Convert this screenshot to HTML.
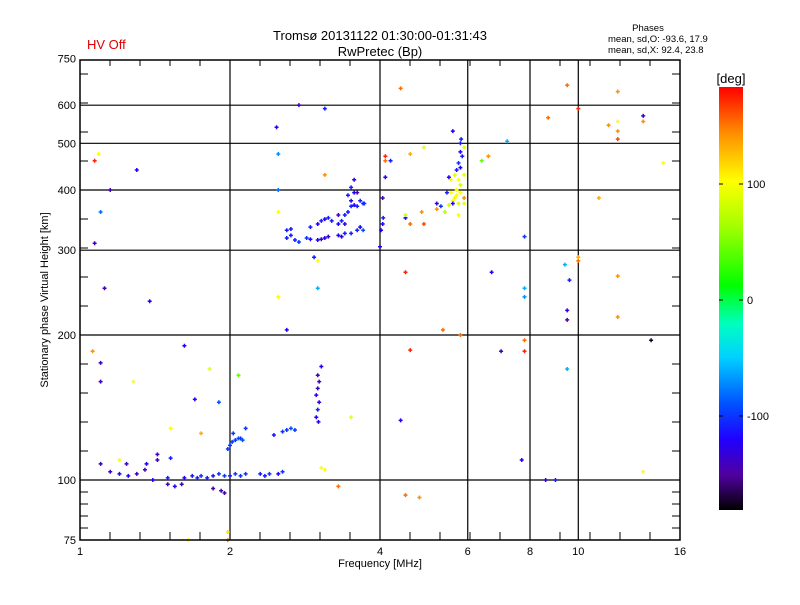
<!DOCTYPE html>
<html><head><meta charset="utf-8"><style>
body{margin:0;background:#fff;}
svg text{font-family:"Liberation Sans",sans-serif;}
</style></head><body>
<svg id="chart" width="800" height="600" viewBox="0 0 800 600" xmlns="http://www.w3.org/2000/svg">
<rect width="800" height="600" fill="#fff"/>
<text x="87" y="49" font-size="13" fill="#e00000">HV Off</text>
<text x="380" y="40" font-size="13" text-anchor="middle">Tromsø 20131122 01:30:00-01:31:43</text>
<text x="380" y="56" font-size="13" text-anchor="middle">RwPretec (Bp)</text>
<text x="648" y="31" font-size="9.5" text-anchor="middle">Phases</text>
<text x="608" y="42" font-size="9.5">mean, sd,O: -93.6, 17.9</text>
<text x="608" y="53" font-size="9.5">mean, sd,X:  92.4, 23.8</text>
<text x="380" y="567" font-size="11" text-anchor="middle">Frequency [MHz]</text>
<text transform="translate(48,300) rotate(-90)" font-size="11" text-anchor="middle">Stationary phase Virtual Height [km]</text>
<g id="grid"></g><g id="ticks"></g><g id="points"></g>
<rect x="80" y="60" width="600" height="480" fill="none" stroke="#000" stroke-width="1.5"/>
<defs><linearGradient id="cb" x1="0" y1="1" x2="0" y2="0">
<stop offset="0" stop-color="#000"/><stop offset="0.083" stop-color="#5000a0"/><stop offset="0.167" stop-color="#2000ff"/><stop offset="0.25" stop-color="#0050ff"/><stop offset="0.36" stop-color="#00d0ff"/><stop offset="0.44" stop-color="#00ffc0"/><stop offset="0.53" stop-color="#00ff00"/><stop offset="0.667" stop-color="#a0ff00"/><stop offset="0.778" stop-color="#ffff00"/><stop offset="0.889" stop-color="#ff9000"/><stop offset="1" stop-color="#ff0000"/></linearGradient></defs>
<rect x="719" y="87" width="24" height="423" fill="url(#cb)"/>
<text x="731" y="83" font-size="13" text-anchor="middle">[deg]</text>
<g id="cbticks"></g>
</svg>
<script>
const freqs=[1.10,1.15,1.2,1.25,1.3,1.35,1.4,1.5,1.55,1.6,1.62,1.68,1.72,1.75,1.8,1.85,1.9,1.95,2.0,2.05,2.1,2.15,2.3,2.35,2.4,2.5,2.55,1.92,1.95,1.85,1.5,1.36,1.43,1.43,1.52,
2.0,2.02,2.05,2.08,2.1,1.98,2.03,2.12,2.45,2.55,2.6,2.65,2.7,2.98,3.0,3.02,2.98,3.0,3.02,3.0,3.05,3.01,
1.82,1.9,2.08,1.62,2.15,1.52,1.75,1.7,3.5,3.05,3.1,3.3,1.65,1.98,1.98,1.06,1.1,1.1,1.2,1.24,1.28,2.6,2.5,3.0,4.4,4.6,4.5,4.8,5.8,7.0,7.7,7.8,7.8,9.0,9.5,8.6,13.5,14.0,12.0,12.0,10.0,9.5,9.5,9.6,9.4,10.0,7.8,7.8,7.8,6.7,4.5,5.35,2.95,3.0,3.1,2.5,2.5,1.07,1.07,1.15,1.12,1.1,1.09,1.3,1.38,2.5,2.48,2.75,3.1,4.4,4.6,4.9,5.6,6.6,6.4,7.2,8.7,9.5,10.0,11.5,12,12,12,12,13.5,13.5,14.8,11,4.5,4.5,4.85,4.9,5.2,4.6,4.1,4.1,
2.6,2.65,2.7,2.75,2.85,2.9,3.0,3.05,3.1,3.15,3.3,3.35,3.4,3.5,3.6,3.65,3.7,2.6,2.65,2.9,3.0,3.05,3.1,3.15,3.2,3.3,3.35,3.4,3.45,3.5,3.55,3.6,3.65,3.7,3.5,3.45,3.5,3.55,3.55,3.6,3.72,3.3,3.4,
4.0,4.02,4.05,4.06,4.05,4.1,4.2,
5.6,5.65,5.7,5.75,5.8,5.7,5.8,5.75,5.65,5.7,5.8,5.75,5.85,5.8,5.8,5.82,5.55,5.55,5.6,5.5,5.9,5.9,5.75,5.5,5.45,5.3,5.2,5.4,5.9,5.9];
const heights=[108,104,103,102,103,105,100,98,97,98,101,102,101,102,101,102,103,102,102,103,102,103,103,102,103,103,104,95,94,96,101,108,110,113,111,
118,120,121,122,122,116,125,121,124,126,127,128,127,135,140,145,150,155,160,165,172,132,
170,145,165,190,128,128,125,147,135,106,105,97,75,75,78,185,175,160,110,108,160,205,240,250,133,186,93,92,200,185,110,185,195,100,170,100,104,195,218,265,285,225,215,260,280,290,240,250,320,270,270,205,290,285,430,360,400,310,460,400,250,360,475,440,235,475,540,600,590,650,475,490,530,470,460,505,565,660,590,545,555,530,510,640,570,555,455,385,350,355,360,340,375,340,470,460,
318,322,315,312,318,316,315,316,318,320,322,320,325,325,330,335,330,330,332,335,340,345,348,350,345,340,345,355,360,370,372,370,380,375,380,390,405,420,395,395,375,355,340,
305,330,340,350,385,425,460,
380,385,390,375,395,400,410,420,430,440,445,455,470,480,500,510,420,395,375,372,385,375,355,425,395,370,365,360,490,430];
const phases=[-140,-140,-120,-120,-140,-140,-120,-140,-120,-140,-120,-110,-110,-100,-110,-110,-100,-100,-110,-100,-100,-100,-110,-110,-100,-120,-100,-140,-140,-150,-110,-120,-140,-140,-110,
-100,-100,-100,-90,-100,-100,-100,-90,-110,-100,-100,-90,-100,-120,-110,-130,-130,-140,-140,-140,-120,-130,
90,-90,40,-120,-100,100,130,-120,90,100,100,150,100,140,110,140,-140,-140,100,-140,100,-120,100,-60,-120,170,150,140,150,-140,-120,170,150,-110,-60,-130,100,-170,140,140,150,-130,-150,-110,-60,130,-70,-60,-100,-120,170,150,-110,100,140,100,-80,-140,170,-140,-140,-80,100,-120,-120,-70,-120,-140,-110,150,130,90,-120,140,40,-60,150,150,170,140,100,140,160,140,-140,140,100,130,-120,80,140,160,-130,150,170,150,
-110,-110,-110,-100,-100,-120,-120,-130,-130,-130,-120,-130,-110,-110,-110,-120,-90,-110,-110,-110,-120,-110,-120,-110,-110,-120,-110,-110,-110,-110,-120,-110,-110,-110,-120,-110,-110,-130,-120,-140,-100,-140,-130,
-130,-120,-120,-110,-140,-120,-110,
100,90,100,80,100,100,80,100,90,-110,-120,-100,-110,-120,-110,-110,100,100,-120,80,140,90,100,-120,-110,-100,140,70,90,90];
const yTickVals=[75,100,200,300,400,500,600,750];
const xTickVals=[1,2,4,6,8,10,16];
const cbTickVals=[100,0,-100];
const NS='http://www.w3.org/2000/svg';
function xs(f){return 80+150*Math.log2(f);}
function ys(h){return 480-481.7*Math.log10(h/100);}
function cy(p){return 300-1.16*p;}
const stops=[[-180,[0,0,0]],[-150,[80,0,160]],[-120,[32,0,255]],[-90,[0,80,255]],[-50,[0,208,255]],[-20,[0,255,192]],[10,[0,255,0]],[60,[160,255,0]],[100,[255,255,0]],[140,[255,144,0]],[180,[255,0,0]]];
function col(p){for(let i=1;i<stops.length;i++){if(p<=stops[i][0]){const a=stops[i-1],b=stops[i],t=(p-a[0])/(b[0]-a[0]);const c=a[1].map((v,k)=>Math.round(v+(b[1][k]-v)*t));return 'rgb('+c.join(',')+')';}}return 'rgb(255,0,0)';}
function mk(tag,attrs,parent){const e=document.createElementNS(NS,tag);for(const k in attrs)e.setAttribute(k,attrs[k]);parent.appendChild(e);return e;}
const grid=document.getElementById('grid'),ticks=document.getElementById('ticks'),pts=document.getElementById('points'),cbt=document.getElementById('cbticks');
xTickVals.forEach(v=>{const x=xs(v);
if(v>1&&v<16){const l=mk('line',{x1:x,x2:x,y1:60,y2:540,stroke:'#000','stroke-width':1.2},grid);

}
const t=mk('text',{x:x,y:555,'font-size':11,'text-anchor':'middle'},ticks);t.textContent=v;

});
yTickVals.forEach(v=>{const y=ys(v);
if(v>75&&v<750){const l=mk('line',{x1:80,x2:680,y1:y,y2:y,stroke:'#000','stroke-width':1.2},grid);

}
const t=mk('text',{x:76,y:y+4,'font-size':11,'text-anchor':'end'},ticks);t.textContent=v;

});
for(let x=110;x<680;x+=30){mk('line',{x1:x,x2:x,y1:540,y2:532,stroke:'#000'},ticks);mk('line',{x1:x,x2:x,y1:60,y2:66,stroke:'#000'},ticks);}
for(let y=451;y>60;y-=29){mk('line',{x1:80,x2:88,y1:y,y2:y,stroke:'#000'},ticks);mk('line',{x1:680,x2:672,y1:y,y2:y,stroke:'#000'},ticks);}
for(let y=492;y<540;y+=12){mk('line',{x1:80,x2:88,y1:y,y2:y,stroke:'#000'},ticks);mk('line',{x1:680,x2:672,y1:y,y2:y,stroke:'#000'},ticks);}
for(let i=0;i<freqs.length;i++){const x=xs(freqs[i]),y=ys(heights[i]),c=col(phases[i]);
const g=mk('path',{d:'M'+(x-2)+' '+y+'h4M'+x+' '+(y-2)+'v4',stroke:c,'stroke-width':1.5,fill:'none'},pts);

}
cbTickVals.forEach(v=>{const y=cy(v);mk('line',{x1:719,x2:723,y1:y,y2:y,stroke:'#000'},cbt);mk('line',{x1:739,x2:743,y1:y,y2:y,stroke:'#000'},cbt);
const t=mk('text',{x:747,y:y+4,'font-size':11},cbt);t.textContent=v;

});
</script>
</body></html>
